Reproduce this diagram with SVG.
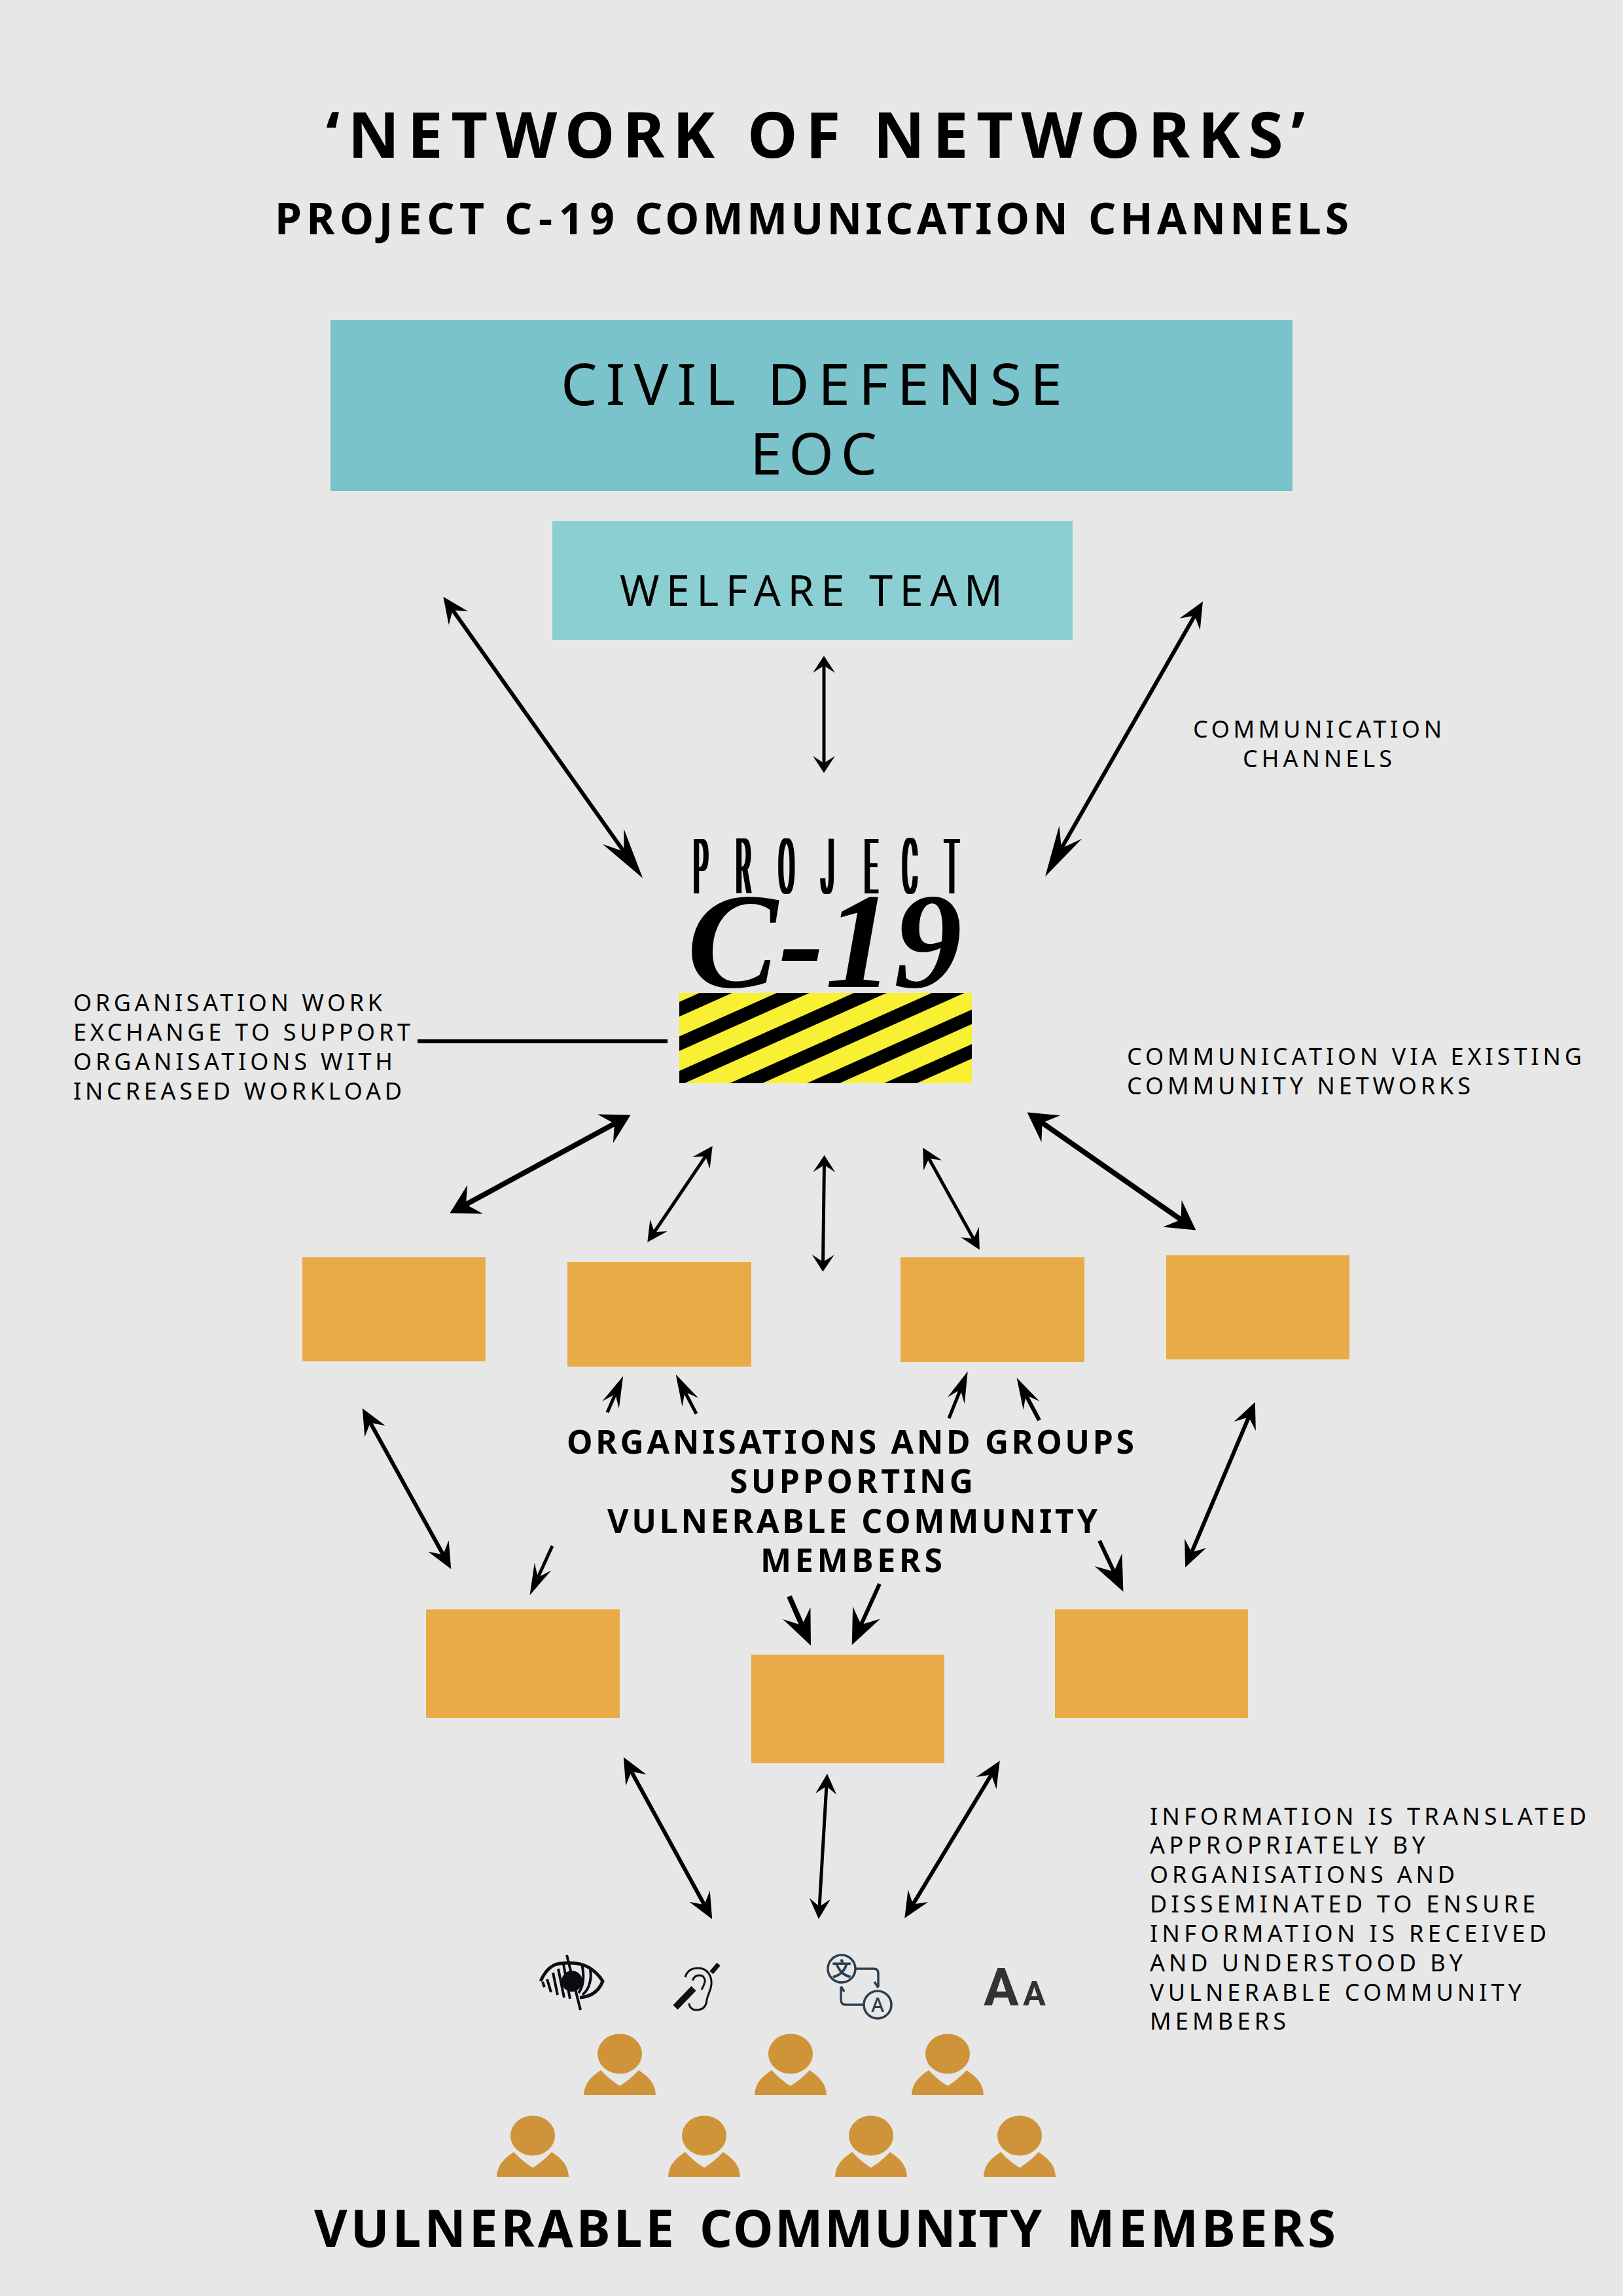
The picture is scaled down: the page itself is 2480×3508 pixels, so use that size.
<svg xmlns="http://www.w3.org/2000/svg" width="2480" height="3508" viewBox="0 0 2480 3508">
<style>
.t{font-family:"Noto Sans","Open Sans",sans-serif;font-weight:700;fill:#000}
.l{font-family:"Noto Sans","Open Sans",sans-serif;font-weight:400;fill:#000}
.box{fill:#E8AB48}
.c{stroke:#000;stroke-width:6;fill:none}
.w5{stroke-width:5}
.w7{stroke-width:8}
.w8{stroke-width:8}
.p{fill:#CF943A}
</style>
<defs>
<marker id="s" markerUnits="userSpaceOnUse" markerWidth="40" markerHeight="38" refX="25" refY="19" orient="auto-start-reverse"><path d="M40 19L0 1L15 19L0 37Z"/></marker>
<marker id="t" markerUnits="userSpaceOnUse" markerWidth="31" markerHeight="34" refX="19" refY="17" orient="auto-start-reverse"><path d="M31 17L0 1L12 17L0 33Z"/></marker>
<marker id="v" markerUnits="userSpaceOnUse" markerWidth="26" markerHeight="36" refX="14" refY="18" orient="auto-start-reverse"><path d="M26 18L0 1L11 18L0 35Z"/></marker>
<marker id="m" markerUnits="userSpaceOnUse" markerWidth="44" markerHeight="52" refX="24" refY="26" orient="auto-start-reverse"><path d="M44 26L0 1L16 26L0 51Z"/></marker>
<marker id="x" markerUnits="userSpaceOnUse" markerWidth="78" markerHeight="42" refX="50" refY="21" orient="auto-start-reverse"><path d="M78 21L0 1L28 21L0 41Z"/></marker>
<marker id="n" markerUnits="userSpaceOnUse" markerWidth="48" markerHeight="30" refX="30" refY="15" orient="auto"><path d="M48 15L0 1L18 15L0 29Z"/></marker>
<marker id="b" markerUnits="userSpaceOnUse" markerWidth="54" markerHeight="48" refX="34" refY="24" orient="auto"><path d="M54 24L0 1L20 24L0 47Z"/></marker>
<clipPath id="hz"><rect x="1038" y="1517" width="447" height="138"/></clipPath>
<filter id="thicken" x="-5%" y="-5%" width="110%" height="110%" filterUnits="objectBoundingBox" primitiveUnits="userSpaceOnUse"><feMorphology operator="dilate" radius="2.5 0"/></filter>
<symbol id="person" overflow="visible"><ellipse cx="0" cy="0" rx="34" ry="30.5"/><path d="M-55 63C-54 45-45 36-29 25Q-15 40 0 49Q15 40 29 25C45 36 54 45 55 63Z"/></symbol>
</defs>
<rect width="2480" height="3508" fill="#E7E7E7"/>
<g id="title">
<text class="t" x="498" y="241" font-size="97" textLength="1496">‘NETWORK OF NETWORKS’</text>
<text class="t" y="358" font-size="66"><tspan x="420" textLength="320">PROJECT</tspan> <tspan x="771" textLength="168">C-19</tspan> <tspan x="970" textLength="662">COMMUNICATION</tspan> <tspan x="1663" textLength="398">CHANNELS</tspan></text>
</g>
<g id="civil-defense"><rect x="505" y="489" width="1470" height="261" fill="#7BC3CB"/>
<text class="l" x="857" y="619" font-size="88" textLength="766">CIVIL DEFENSE</text>
<text class="l" x="1146" y="725" font-size="88" textLength="194">EOC</text></g>
<g id="welfare-team"><rect x="844" y="796" width="795" height="182" fill="#8BCFD3"/>
<text class="l" x="947" y="926" font-size="65" textLength="585">WELFARE TEAM</text></g>
<g id="project-c19">
<g filter="url(#thicken)"><g transform="translate(0,1365) scale(0.3,1)"><text font-family="Roboto,Liberation Sans,sans-serif" font-weight="300" font-size="116" x="3533 3750 3967 4183 4403 4597 4813" y="0">PROJECT</text></g></g>
<text x="1050" y="1508" font-family="Liberation Serif,serif" font-weight="700" font-style="italic" font-size="208" textLength="420">C-19</text>
<g clip-path="url(#hz)"><rect x="1038" y="1517" width="447" height="138" fill="#F8F032"/>
<path d="M1069 1517h50L810 1655h-50ZM1187 1517h50L928 1655h-50ZM1305 1517h50L1046 1655h-50ZM1424 1517h50L1165 1655h-50ZM1542 1517h50L1283 1655h-50ZM1660 1517h50L1401 1655h-50Z"/></g>
</g>
<g id="org-top-1"><rect class="box" x="462" y="1921" width="280" height="159"/></g>
<g id="org-top-2"><rect class="box" x="867" y="1928" width="281" height="160"/></g>
<g id="org-top-3"><rect class="box" x="1376" y="1921" width="281" height="160"/></g>
<g id="org-top-4"><rect class="box" x="1782" y="1918" width="280" height="159"/></g>
<g id="org-low-1"><rect class="box" x="651" y="2459" width="296" height="166"/></g>
<g id="org-low-2"><rect class="box" x="1148" y="2528" width="295" height="166"/></g>
<g id="org-low-3"><rect class="box" x="1612" y="2459" width="295" height="166"/></g>
<g id="connectors">
<line class="c" x1="686" y1="924" x2="966" y2="1319" marker-start="url(#s)" marker-end="url(#x)"/>
<line class="c w5" x1="1259" y1="1014" x2="1259" y2="1169" marker-start="url(#v)" marker-end="url(#v)"/>
<line class="c" x1="1830.5" y1="932" x2="1611" y2="1315" marker-start="url(#s)" marker-end="url(#x)"/>
<line class="c" x1="638" y1="1591" x2="1020" y2="1591"/>
<line class="c w7" x1="946" y1="1713" x2="705" y2="1844" marker-start="url(#m)" marker-end="url(#m)"/>
<line class="c w5" x1="1082" y1="1761" x2="996" y2="1888" marker-start="url(#t)" marker-end="url(#t)"/>
<line class="c w5" x1="1259.5" y1="1777" x2="1257.5" y2="1931" marker-start="url(#v)" marker-end="url(#v)"/>
<line class="c w5" x1="1416" y1="1764" x2="1491" y2="1899" marker-start="url(#t)" marker-end="url(#t)"/>
<line class="c w7" x1="1586" y1="1711" x2="1811" y2="1868" marker-start="url(#m)" marker-end="url(#m)"/>
<line class="c" x1="561" y1="2165" x2="682" y2="2384" marker-start="url(#s)" marker-end="url(#s)"/>
<line class="c" x1="1912" y1="2156" x2="1817" y2="2381" marker-start="url(#s)" marker-end="url(#s)"/>
<line class="c w5" x1="928" y1="2158" x2="945" y2="2119" marker-end="url(#n)"/>
<line class="c w5" x1="1064" y1="2160" x2="1041" y2="2116" marker-end="url(#n)"/>
<line class="c w5" x1="1450" y1="2167" x2="1472" y2="2112" marker-end="url(#n)"/>
<line class="c" x1="1588" y1="2170" x2="1562" y2="2121" marker-end="url(#n)"/>
<line class="c w5" x1="844" y1="2362" x2="817" y2="2421" marker-end="url(#n)"/>
<line class="c" x1="1680" y1="2354" x2="1708" y2="2414" marker-end="url(#b)"/>
<line class="c w8" x1="1206" y1="2439" x2="1231" y2="2496" marker-end="url(#b)"/>
<line class="c" x1="1344" y1="2420" x2="1310" y2="2495" marker-end="url(#b)"/>
<line class="c" x1="960" y1="2698" x2="1081" y2="2919" marker-start="url(#s)" marker-end="url(#s)"/>
<line class="c w5" x1="1263.3" y1="2722" x2="1251.7" y2="2920" marker-start="url(#t)" marker-end="url(#t)"/>
<line class="c" x1="1520" y1="2703" x2="1390" y2="2918" marker-start="url(#s)" marker-end="url(#s)"/>
</g>
<g id="labels">
<text class="l" x="112" y="1545" font-size="36" textLength="472">ORGANISATION WORK</text>
<text class="l" x="112" y="1590" font-size="36" textLength="515">EXCHANGE TO SUPPORT</text>
<text class="l" x="112" y="1635" font-size="36" textLength="488">ORGANISATIONS WITH</text>
<text class="l" x="112" y="1680" font-size="36" textLength="502">INCREASED WORKLOAD</text>
<text class="l" x="1722" y="1627" font-size="36" textLength="695">COMMUNICATION VIA EXISTING</text>
<text class="l" x="1722" y="1672" font-size="36" textLength="525">COMMUNITY NETWORKS</text>
<text class="l" x="1823" y="1127" font-size="36" textLength="380">COMMUNICATION</text>
<text class="l" x="1899" y="1172" font-size="36" textLength="228">CHANNELS</text>
<text class="l" x="1757" y="2788" font-size="36" textLength="667">INFORMATION IS TRANSLATED</text>
<text class="l" x="1757" y="2832" font-size="36" textLength="421">APPROPRIATELY BY</text>
<text class="l" x="1757" y="2877" font-size="36" textLength="466">ORGANISATIONS AND</text>
<text class="l" x="1757" y="2922" font-size="36" textLength="589">DISSEMINATED TO ENSURE</text>
<text class="l" x="1757" y="2967" font-size="36" textLength="606">INFORMATION IS RECEIVED</text>
<text class="l" x="1757" y="3012" font-size="36" textLength="478">AND UNDERSTOOD BY</text>
<text class="l" x="1757" y="3057" font-size="36" textLength="568">VULNERABLE COMMUNITY</text>
<text class="l" x="1757" y="3101" font-size="36" textLength="208">MEMBERS</text>
<text class="t" x="866" y="2221" font-size="50" textLength="867">ORGANISATIONS AND GROUPS</text>
<text class="t" x="1115" y="2281" font-size="50" textLength="372">SUPPORTING</text>
<text class="t" x="928" y="2342" font-size="50" textLength="749">VULNERABLE COMMUNITY</text>
<text class="t" x="1162" y="2402" font-size="50" textLength="278">MEMBERS</text>
<text class="t" y="3433" font-size="78"><tspan x="480" textLength="550">VULNERABLE</tspan> <tspan x="1069" textLength="523">COMMUNITY</tspan> <tspan x="1630" textLength="411">MEMBERS</tspan></text>
</g>
<g id="icon-vision">
<path d="M826 3027C838 3000 852 2999 870 2999C895 2999 910 3010 921 3027C914 3045 900 3051 886 3052" fill="none" stroke="#0b0b12" stroke-width="5"/>
<path d="M901 3005C905 3020 902 3038 890 3048M889 3001C893 3018 892 3035 884 3045" fill="none" stroke="#0b0b12" stroke-width="4"/>
<path d="M866 2987L887 3071M861 3001L871 3054M853 3008L862 3052M845 3014L852 3048M836 3024L842 3044M829 3028L832 3036" stroke="#0b0b12" stroke-width="4" fill="none"/>
<ellipse cx="874" cy="3027" rx="16" ry="16" fill="#0b0b12"/>
</g>
<g id="icon-hearing" fill="none" stroke="#111" stroke-width="3">
<path d="M1047 3021C1050 3010 1058 3007 1067 3007C1080 3007 1088 3018 1087 3032C1086 3042 1081 3048 1080 3056C1079 3066 1074 3071 1064 3071C1057 3071 1053 3066 1053 3061"/>
<path d="M1058.5 3026C1060 3020 1064 3018 1069 3018C1075 3018 1078 3024 1077 3028C1076 3033 1074 3036 1072 3040"/>
<path d="M1032 3067L1060 3038" stroke-width="10"/>
<path d="M1087 3014L1098 3001" stroke-width="7"/>
</g>
<g id="icon-translate" fill="none" stroke="#2C3E50" stroke-width="3.5">
<circle cx="1286" cy="3008" r="21"/><circle cx="1341" cy="3063" r="21"/>
<path d="M1308 3008H1335Q1342 3008 1342 3015V3036M1336 3028L1342 3037M1285 3036V3055Q1285 3063 1292 3063H1319M1285 3035L1290 3043"/>
<text x="1286" y="3019" text-anchor="middle" font-family="Noto Sans CJK SC,sans-serif" font-size="30" font-weight="700" fill="#2C3E50" stroke="none">文</text>
<text x="1341" y="3074" text-anchor="middle" font-family="Noto Sans,sans-serif" font-size="30" font-weight="500" fill="#2C3E50" stroke="none">A</text>
</g>
<g id="icon-text-size" fill="#333"><text x="1503" y="3064" font-family="Roboto,sans-serif" font-weight="700" font-size="80">A</text>
<text x="1563" y="3064" font-family="Roboto,sans-serif" font-weight="700" font-size="52">A</text></g>
<g id="people" class="p">
<use href="#person" x="947" y="3138"/><use href="#person" x="1208" y="3138"/><use href="#person" x="1448" y="3138"/>
<use href="#person" x="814" y="3263"/><use href="#person" x="1076" y="3263"/><use href="#person" x="1331" y="3263"/><use href="#person" x="1558" y="3263"/>
</g>
</svg>
